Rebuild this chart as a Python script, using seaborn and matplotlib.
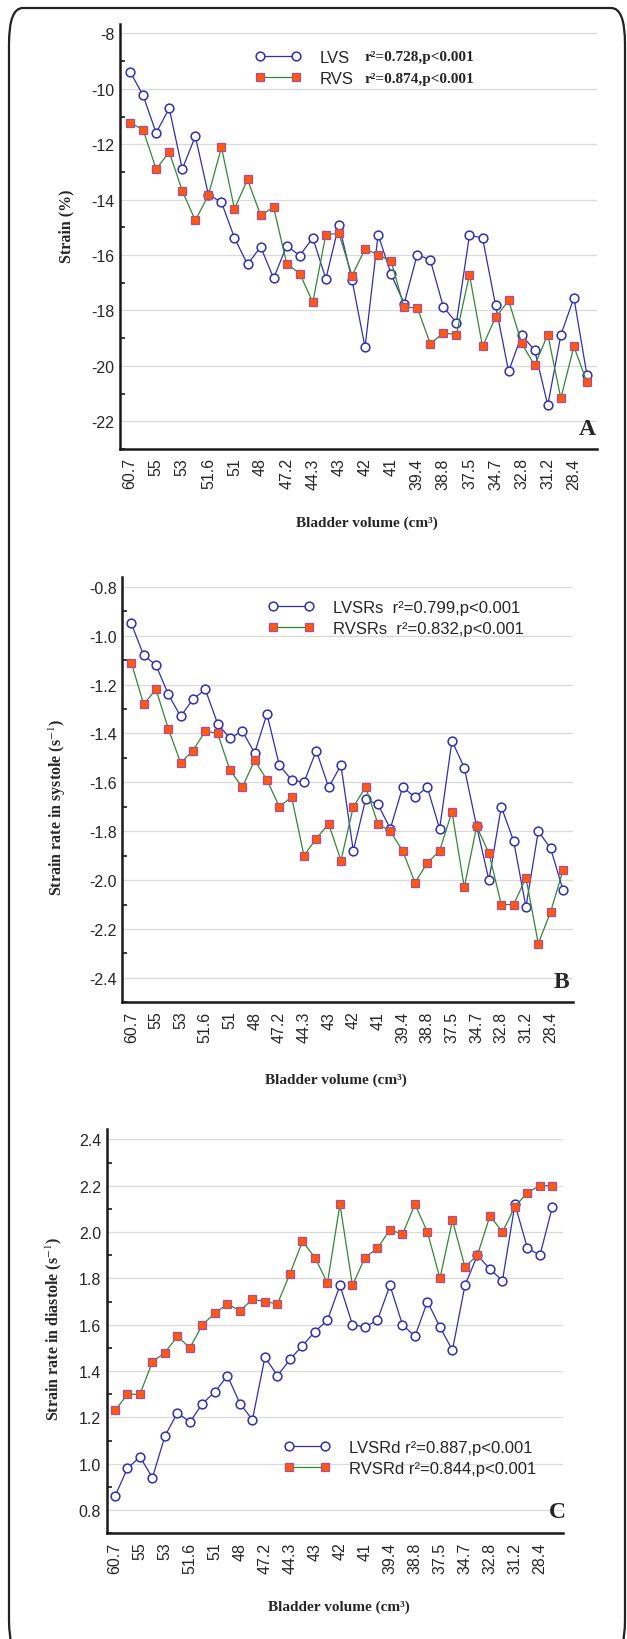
import numpy as np
import matplotlib
matplotlib.use('Agg')
import matplotlib.pyplot as plt
import seaborn as sns
from matplotlib.patches import FancyBboxPatch
from matplotlib.font_manager import FontProperties

# Data (36 bladder volume steps)
vol_labels = ['60.7', '55', '53', '51.6', '51', '48', '47.2', '44.3', '43', '42',
              '41', '39.4', '38.8', '37.5', '34.7', '32.8', '31.2', '28.4']

lvs = [-9.38, -10.24, -11.59, -10.70, -12.90, -11.71, -13.82, -14.09, -15.38, -16.34,
       -15.70, -16.84, -15.66, -16.02, -15.38, -16.86, -14.90, -16.89, -19.33, -15.26,
       -16.69, -17.75, -15.98, -16.18, -17.87, -18.44, -15.29, -15.38, -17.81, -20.20,
       -18.89, -19.44, -21.42, -18.89, -17.54, -20.33]
rvs = [-11.22, -11.48, -12.90, -12.28, -13.68, -14.75, -13.84, -12.11, -14.33, -13.27,
       -14.56, -14.28, -16.31, -16.67, -17.70, -15.26, -15.22, -16.74, -15.79, -15.98,
       -16.23, -17.89, -17.90, -19.20, -18.81, -18.87, -16.71, -19.30, -18.25, -17.64,
       -19.19, -19.98, -18.87, -21.17, -19.30, -20.59]

lvsrs = [-0.95, -1.08, -1.12, -1.24, -1.33, -1.26, -1.22, -1.36, -1.42, -1.39,
         -1.48, -1.32, -1.53, -1.59, -1.60, -1.47, -1.62, -1.53, -1.88, -1.67,
         -1.69, -1.79, -1.62, -1.66, -1.62, -1.79, -1.43, -1.54, -1.78, -2.00,
         -1.70, -1.84, -2.11, -1.80, -1.87, -2.04]
rvsrs = [-1.11, -1.28, -1.22, -1.38, -1.52, -1.47, -1.39, -1.40, -1.55, -1.62,
         -1.51, -1.59, -1.70, -1.66, -1.90, -1.83, -1.77, -1.92, -1.70, -1.62,
         -1.77, -1.80, -1.88, -2.01, -1.93, -1.88, -1.72, -2.03, -1.78, -1.89,
         -2.10, -2.10, -1.99, -2.26, -2.13, -1.96]

lvsrd = [0.86, 0.98, 1.03, 0.94, 1.12, 1.22, 1.18, 1.26, 1.31, 1.38,
         1.26, 1.19, 1.46, 1.38, 1.45, 1.51, 1.57, 1.62, 1.77, 1.60,
         1.59, 1.62, 1.77, 1.60, 1.55, 1.70, 1.59, 1.49, 1.77, 1.90,
         1.84, 1.79, 2.12, 1.93, 1.90, 2.11]
rvsrd = [1.23, 1.30, 1.30, 1.44, 1.48, 1.55, 1.50, 1.60, 1.65, 1.69,
         1.66, 1.71, 1.70, 1.69, 1.82, 1.96, 1.89, 1.78, 2.12, 1.77,
         1.89, 1.93, 2.01, 1.99, 2.12, 2.00, 1.80, 2.05, 1.85, 1.90,
         2.07, 2.00, 2.11, 2.17, 2.20, 2.20]

sns.set_style('white')
plt.rcParams['font.family'] = ['Liberation Sans', 'DejaVu Sans']
plt.rcParams['mathtext.fontset'] = 'stix'

BLUE = '#2f2fb4'
GREEN = '#2f8a2f'
ORANGE = '#ff5a0a'
PURPLE = '#b04a9a'
W, H = 627, 1640

fig = plt.figure(figsize=(W / 100, H / 100), dpi=100)

# outer rounded frame
frame = FancyBboxPatch((9 / W, -0.01), (625 - 9) / W, (H - 9) / H + 0.01,
                       boxstyle='round,pad=0,rounding_size=0.022',
                       transform=fig.transFigure, fill=False, ec='#222222', lw=1.6)
fig.patches.append(frame)


def make_ax(l, r, t, b):
    return fig.add_axes([l / W, 1 - b / H, (r - l) / W, (b - t) / H])


def panel(ax, lv, rv, names, ylim, major, fmt, ylabel, ylab_xy, xlab_xy, letter, letter_xy,
          leg_xy, xlim):
    x = np.arange(len(lv))
    sns.lineplot(x=x, y=lv, ax=ax, color=BLUE, lw=0.9, marker='o', ms=6.3,
                 mfc='white', mec=BLUE, mew=1.1, label=names[0])
    sns.lineplot(x=x, y=rv, ax=ax, color=GREEN, lw=0.9, marker='s', ms=6.4,
                 mfc=ORANGE, mec=PURPLE, mew=0.9, label=names[1])
    ax.set_xlim(*xlim)
    ax.set_ylim(*ylim)
    yt = np.arange(round(ylim[0] / major) * major, ylim[1] + 1e-9, major)
    yt = yt[(yt >= ylim[0]) & (yt <= ylim[1])]
    ax.set_yticks(yt)
    ax.set_yticklabels([fmt.format(v) for v in yt])
    ax.set_yticks(np.arange(yt[0] - major / 2, ylim[1], major), minor=True)
    ax.set_xticks(x[::2])
    ax.set_xticklabels(vol_labels, rotation=90)
    ax.yaxis.grid(True, color='#dadada', lw=0.9)
    ax.set_axisbelow(True)
    for s in ['top', 'right']:
        ax.spines[s].set_visible(False)
    for s in ['left', 'bottom']:
        ax.spines[s].set_linewidth(1.8)
        ax.spines[s].set_color('#1a1a1a')
    ax.tick_params(axis='y', which='major', direction='in', length=6.5, width=1.4,
                   pad=4, labelsize=11.5, color='#1a1a1a')
    ax.tick_params(axis='y', which='minor', direction='in', length=3.5, width=1.2,
                   color='#1a1a1a', left=True)
    ax.tick_params(axis='x', which='major', direction='in', length=5.5, width=1.2,
                   pad=6, labelsize=11.5, color='#1a1a1a')
    ax.set_xlabel('')
    ax.set_ylabel('')
    ax.text(ylab_xy[0], ylab_xy[1], ylabel, transform=ax.transAxes, rotation=90,
            ha='center', va='center', fontsize=11.5, fontweight='bold',
            family=['Liberation Serif', 'DejaVu Serif'])
    ax.text(xlab_xy[0], xlab_xy[1], 'Bladder volume (cm³)', transform=ax.transAxes,
            ha='center', va='center', fontsize=11, fontweight='bold',
            family=['Liberation Serif', 'DejaVu Serif'])
    ax.text(letter_xy[0], letter_xy[1], letter, transform=ax.transAxes,
            ha='center', va='center', fontsize=17, fontweight='bold',
            family=['Liberation Serif', 'DejaVu Serif'])
    handles = ax.get_lines()[:2]
    ax.legend(handles=handles, labels=names, loc='upper left',
              bbox_to_anchor=(leg_xy[0] / W, 1 - leg_xy[1] / H),
              bbox_transform=fig.transFigure, borderpad=0, borderaxespad=0,
              handlelength=2.76, handletextpad=1.14, labelspacing=0.36, numpoints=2,
              frameon=False, prop=FontProperties(family='Liberation Sans', size=12))


# Panel A: strain
axA = make_ax(120, 597, 25, 450)
panel(axA, lvs, rvs, ['LVS', 'RVS'], (-22.29, -7.66), 2, '{:.0f}', 'Strain (%)',
      (-0.113, 0.527), (0.518, -0.172), 'A', (0.979, 0.049), (255, 51), (-0.77, 35.77))
serif_b = dict(fontsize=11, fontweight='bold', family=['Liberation Serif', 'DejaVu Serif'],
               va='center', ha='left', transform=fig.transFigure)
fig.text(365 / W, 1 - 58 / H, 'r²=0.728,p<0.001', **serif_b)
fig.text(365 / W, 1 - 79 / H, 'r²=0.874,p<0.001', **serif_b)

# Panel B: systolic strain rate
axB = make_ax(122.3, 572.7, 578.3, 1003.3)
panel(axB, lvsrs, rvsrs, ['LVSRs  r²=0.799,p<0.001', 'RVSRs  r²=0.832,p<0.001'],
      (-2.435, -0.761), 0.2, '{:.1f}', r'Strain rate in systole (s$^{-1}$)',
      (-0.145, 0.462), (0.474, -0.18), 'B', (0.976, 0.05), (268, 601), (-0.73, 35.79))

# Panel C: diastolic strain rate
axC = make_ax(106.7, 562.7, 1130, 1534.3)
panel(axC, lvsrd, rvsrd, ['LVSRd r²=0.887,p<0.001', 'RVSRd r²=0.844,p<0.001'],
      (0.7625, 2.4446), 0.2, '{:.1f}', r'Strain rate in diastole (s$^{-1}$)',
      (-0.116, 0.508), (0.509, -0.18), 'C', (0.9875, 0.055), (284, 1441), (-0.66, 35.82))

fig.savefig('out.png', dpi=100)
